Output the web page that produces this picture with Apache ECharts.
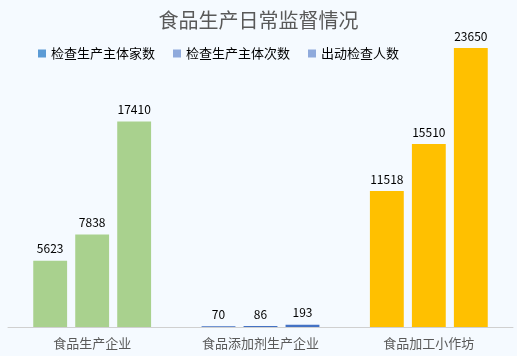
<!DOCTYPE html>
<html>
<head>
<meta charset="utf-8">
<script src="https://cdn.jsdelivr.net/npm/echarts@6/dist/echarts.min.js"></script>
<style>
  html, body { margin: 0; padding: 0; background: #f5faff; }
  #chart { width: 517px; height: 356px; }
</style>
</head>
<body>
<div id="chart"></div>
<script>
const categories = ['食品生产企业', '食品添加剂生产企业', '食品加工小作坊']
const seriesNames = ['检查生产主体家数', '检查生产主体次数', '出动检查人数']
const households = [5623, 70, 11518]
const times = [7838, 86, 15510]
const inspectors = [17410, 193, 23650]
const catColors = ['#a9d18e', '#4472c4', '#ffc000']
const legendColors = ['#5b9bd5', '#8faadc', '#8faadc']

const chart = echarts.init(document.getElementById('chart'))

const makeSeries = (name, values, i) => ({
  name: name,
  type: 'bar',
  barGap: '24%',
  barCategoryGap: '30%',
  itemStyle: { color: legendColors[i] },
  label: {
    show: true,
    position: 'top',
    distance: 6,
    color: '#000',
    fontSize: 12,
    fontFamily: 'Noto Sans CJK SC'
  },
  data: values.map((v, j) => ({ value: v, itemStyle: { color: catColors[j] } }))
})

const option = {
  backgroundColor: '#f5faff',
  animation: false,
  title: {
    text: '食品生产日常监督情况',
    left: 'center',
    top: 5,
    textStyle: {
      color: '#595959',
      fontSize: 20,
      fontWeight: 'normal',
      fontFamily: 'Noto Sans CJK SC'
    }
  },
  legend: {
    left: 33,
    top: 42,
    itemWidth: 8,
    itemHeight: 8,
    itemGap: 18,
    icon: 'rect',
    textStyle: { color: '#000', fontSize: 13, fontFamily: 'Noto Sans CJK SC' },
    data: seriesNames
  },
  grid: { left: 8, right: 4, top: 48, bottom: 29 },
  xAxis: {
    type: 'category',
    data: categories,
    axisLine: { lineStyle: { color: '#d0d0d0' } },
    axisTick: { show: false },
    axisLabel: {
      color: '#595959',
      fontSize: 13,
      margin: 10,
      fontFamily: 'Noto Sans CJK SC'
    }
  },
  yAxis: {
    type: 'value',
    min: 0,
    max: 23650,
    show: false
  },
  series: [
    makeSeries(seriesNames[0], households, 0),
    makeSeries(seriesNames[1], times, 1),
    makeSeries(seriesNames[2], inspectors, 2)
  ]
}

chart.setOption(option)
</script>
</body>
</html>
